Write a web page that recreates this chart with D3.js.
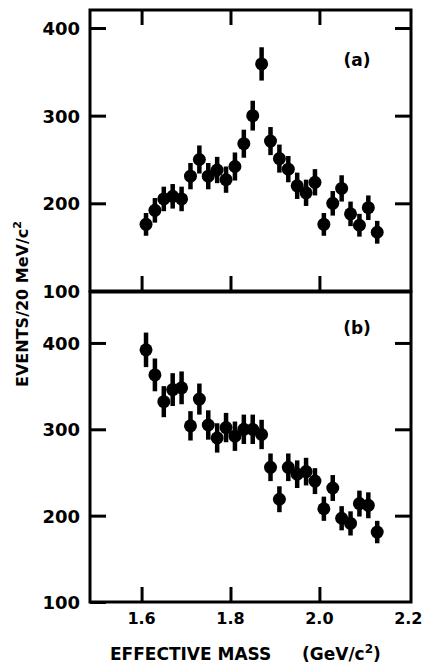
<!DOCTYPE html>
<html>
<head>
<meta charset="utf-8">
<script src="https://cdn.jsdelivr.net/npm/d3@7"></script>
<style>
  body { margin: 0; background: #fff; }
  svg { display: block; }
  text { font-family: "DejaVu Sans", sans-serif; font-weight: bold; fill: #000; }
</style>
</head>
<body>
<svg width="425" height="665"></svg>
<script>
// mass bins (GeV/c^2), 20 MeV wide
var mass = [1.61,1.63,1.65,1.67,1.69,1.71,1.73,1.75,1.77,1.79,1.81,1.83,1.85,1.87,1.89,
            1.91,1.93,1.95,1.97,1.99,2.01,2.03,2.05,2.07,2.09,2.11,2.13];
// panel (a)
var eventsA = [176,192,205,208,205,231,250,231,238,227,242,268,300,359,271,251,239,220,212,224,176,200,217,188,175,195,167];
var errA    = [13,14,14,14,14,15,16,15,15,15,16,16,17,19,16,16,15,15,15,15,13,14,15,14,13,14,13];
// panel (b)
var eventsB = [392,363,332,346,348,304,335,305,290,302,292,300,300,294,256,219,256,248,251,240,208,232,197,191,214,212,181];
var errB    = [20,19,18,19,19,17,18,17,17,17,17,17,17,17,16,15,16,16,16,15,14,15,14,14,15,15,13];

var xTicks = [1.6, 1.8, 2.0, 2.2];
var yTicks = [100, 200, 300, 400];

var svg = d3.select("svg");

var left = 90, right = 411;
var x = d3.scaleLinear().domain([1.484, 2.206]).range([left, right]);

var panels = [
  {label: "(a)", vals: eventsA, err: errA, top: 10, bottom: 291, ymax: 420.5, labelY: 66, topTicks: true},
  {label: "(b)", vals: eventsB, err: errB, top: 292, bottom: 602, ymax: 459, labelY: 334, topTicks: false}
];

panels.forEach(function(p) {
  var y = d3.scaleLinear().domain([100, p.ymax]).range([p.bottom, p.top]);
  var g = svg.append("g");

  // left axis, ticks pointing in
  g.append("g")
    .attr("transform", "translate(" + left + ",0)")
    .call(d3.axisLeft(y).tickValues(yTicks).tickSize(-16).tickPadding(10).tickFormat(d3.format("d")))
    .call(function(a) {
      a.select(".domain").remove();
      a.selectAll("line").attr("stroke-width", 3);
      a.selectAll("text").attr("font-size", 18).attr("dy", "0.36em");
    });

  // right axis, no labels
  g.append("g")
    .attr("transform", "translate(" + right + ",0)")
    .call(d3.axisRight(y).tickValues([200, 300, 400]).tickSize(-16).tickFormat(""))
    .call(function(a) {
      a.select(".domain").remove();
      a.selectAll("line").attr("stroke-width", 3);
    });

  // bottom ticks (up)
  g.append("g")
    .attr("transform", "translate(0," + p.bottom + ")")
    .call(d3.axisBottom(x).tickValues([1.6, 1.8, 2.0]).tickSize(-15).tickFormat(""))
    .call(function(a) {
      a.select(".domain").remove();
      a.selectAll("line").attr("stroke-width", 3);
    });

  if (p.topTicks) {
    g.append("g")
      .attr("transform", "translate(0," + p.top + ")")
      .call(d3.axisTop(x).tickValues([1.6, 1.8, 2.0]).tickSize(-15).tickFormat(""))
      .call(function(a) {
        a.select(".domain").remove();
        a.selectAll("line").attr("stroke-width", 3);
      });
  }

  // frame
  g.append("rect")
    .attr("x", left).attr("y", p.top)
    .attr("width", right - left).attr("height", p.bottom - p.top)
    .attr("fill", "none").attr("stroke", "#000").attr("stroke-width", 3);

  // error bars
  g.selectAll(".eb").data(p.vals).enter().append("line")
    .attr("x1", function(d, i) { return x(mass[i]); })
    .attr("x2", function(d, i) { return x(mass[i]); })
    .attr("y1", function(d, i) { return y(d - p.err[i]); })
    .attr("y2", function(d, i) { return y(d + p.err[i]); })
    .attr("stroke", "#000").attr("stroke-width", 4.5);

  // points
  g.selectAll(".pt").data(p.vals).enter().append("circle")
    .attr("cx", function(d, i) { return x(mass[i]); })
    .attr("cy", function(d) { return y(d); })
    .attr("r", 6.5)
    .attr("fill", "#000");

  g.append("text")
    .attr("x", 357).attr("y", p.labelY)
    .attr("text-anchor", "middle")
    .attr("font-size", 17)
    .text(p.label);
});

// x tick labels
svg.append("g").selectAll("text").data(xTicks).enter().append("text")
  .attr("x", function(d) { return x(d); })
  .attr("y", 624)
  .attr("text-anchor", "middle")
  .attr("font-size", 16)
  .text(function(d) { return d.toFixed(1); });

// x title
svg.append("text")
  .attr("x", 110).attr("y", 660)
  .attr("font-size", 17)
  .text("EFFECTIVE MASS");
var xt = svg.append("text")
  .attr("x", 302).attr("y", 660)
  .attr("font-size", 17);
xt.append("tspan").text("(GeV/c");
xt.append("tspan").attr("dy", -7).attr("font-size", 12).text("2");
xt.append("tspan").attr("dy", 7).text(")");

// y title
var yt = svg.append("text")
  .attr("transform", "translate(28,304) rotate(-90)")
  .attr("text-anchor", "middle")
  .attr("font-size", 16);
yt.append("tspan").text("EVENTS/20 MeV/c");
yt.append("tspan").attr("dy", -7).attr("font-size", 11).text("2");
</script>
</body>
</html>
